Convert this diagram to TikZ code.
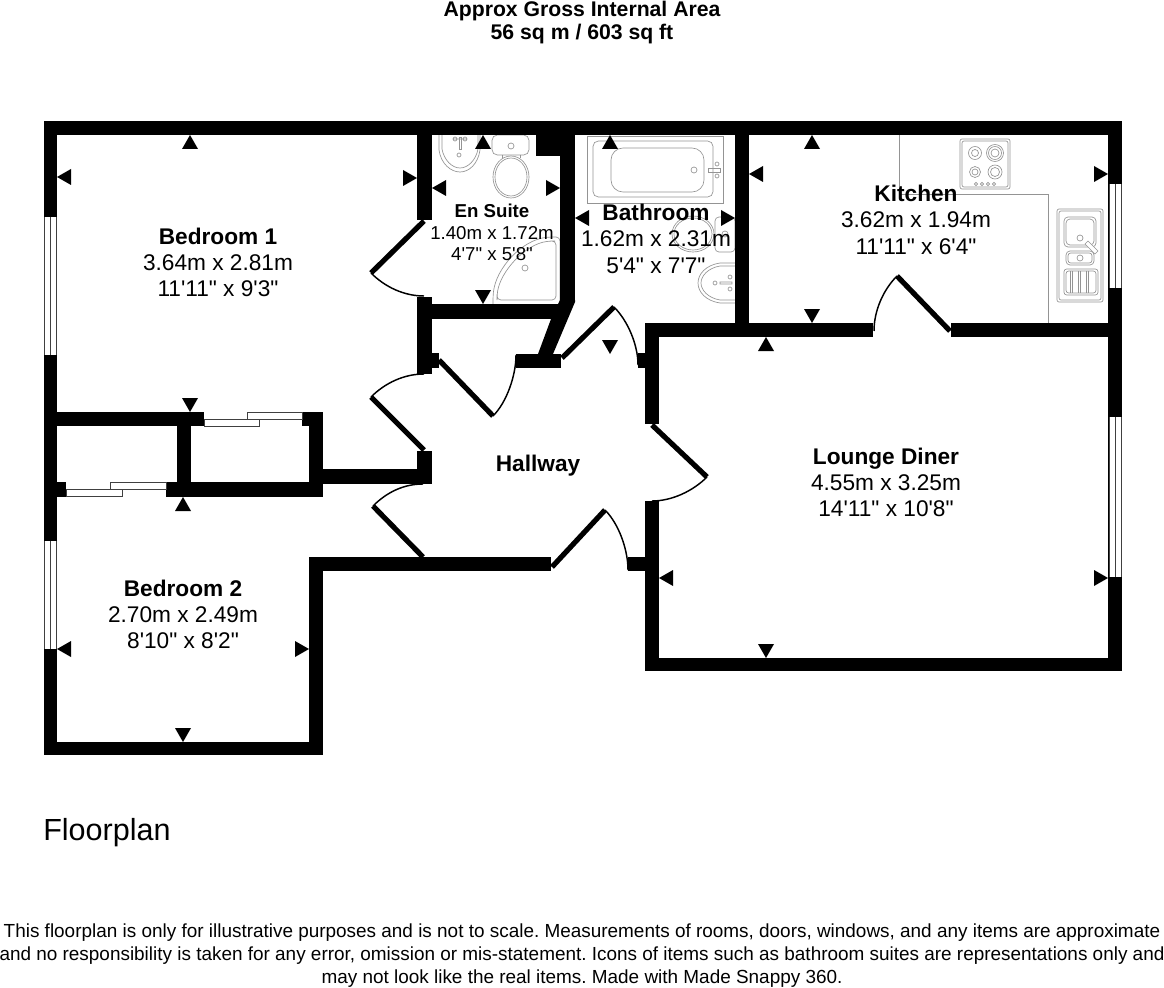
\documentclass[tikz,border=0pt]{standalone}
\usepackage{fontspec}
\setmainfont{Liberation Sans}[Ligatures=TeXOff]
\frenchspacing
\newcommand\wl[4]{\fill[black] (#1,#2) rectangle (#3,#4);}
\newcommand\mku[2]{\fill[black] (#1-8,#2+14) -- (#1+8,#2+14) -- (#1,#2) -- cycle;}
\newcommand\mkd[2]{\fill[black] (#1-8,#2-14) -- (#1+8,#2-14) -- (#1,#2) -- cycle;}
\newcommand\mkl[2]{\fill[black] (#1+14,#2-8) -- (#1+14,#2+8) -- (#1,#2) -- cycle;}
\newcommand\mkr[2]{\fill[black] (#1-14,#2-8) -- (#1-14,#2+8) -- (#1,#2) -- cycle;}
\newcommand\door[6]{\draw[doorleaf] (#1) -- (#2); \draw[doorarc] (#2) .. controls (#4) and (#5) .. (#3);}
\newcommand\winv[3]{\fill[white] (#1,#2) rectangle (#1+13,#3); \draw[winline] (#1+0.5,#2) -- (#1+0.5,#3) (#1+6.5,#2) -- (#1+6.5,#3) (#1+12.5,#2) -- (#1+12.5,#3);}
\newcommand\slide[4]{\draw[winline,fill=white] (#1,#2) rectangle (#3,#4);}
\newcommand\lab[5]{\node[lbl,font=\fontsize{#3}{#3}\selectfont#4] at (#1,#2) {#5};}
\tikzset{
 x=0.75pt,y=-0.75pt,
 doorleaf/.style={line width=3.9pt,black},
 doorarc/.style={line width=1.1pt,black},
 winline/.style={line width=0.6pt,black!75},
 fixt/.style={line width=0.5pt,draw=black!42,fill=none},
 lbl/.style={anchor=base,inner sep=0pt,black}
}
\begin{document}
\begin{tikzpicture}
\useasboundingbox (0,0) rectangle (1164,988);
% kitchen worktop and fittings
\begin{scope}[fixt]
\draw[fixt] (899,135) -- (899,194) -- (1048,194) -- (1048,323);
\draw[fixt,fill=white,rounded corners=1.5] (960,139) rectangle (1010,189);
\draw[fixt,rounded corners=1.5] (962,141) rectangle (1008,187);
\draw[fixt] (975,153) circle (6.5) (975,153) circle (3.5);
\draw[fixt] (995,153) circle (8.5) (995,153) circle (6.5) (995,153) circle (4);
\draw[fixt] (975,172) circle (5.5) (975,172) circle (3);
\draw[fixt] (995,172) circle (7) (995,172) circle (4.5);
\foreach \q in {976,982,988,994}{\draw[fixt] (\q,184) circle (1.6);}
\draw[fixt,rounded corners=1.5] (1057,209) rectangle (1103,302);
\draw[fixt,rounded corners=1.5] (1059,211) rectangle (1101,300);
\draw[fixt,rounded corners=3] (1064,217) rectangle (1096,247);
\draw[fixt,rounded corners=3] (1066,219) rectangle (1094,245);
\draw[fixt,rounded corners=3] (1066,251) rectangle (1094,265);
\draw[fixt,rounded corners=2] (1068,253) rectangle (1092,263);
\draw[fixt] (1080,238) circle (3) (1080,258) circle (3);
\draw[fixt,fill=white] (1088,241) -- (1098,251) -- (1095,254) -- (1085,244) -- cycle;
\draw[fixt,rounded corners=2] (1064,269) rectangle (1098,295);
\draw[fixt,rounded corners=2] (1066,271) rectangle (1096,293);
\foreach \q in {1072,1080,1088}{\draw[fixt] (\q,271) -- (\q,293);}
\foreach \q in {1070,1078,1086}{\draw[fixt] (\q,271) -- (\q,293);}
% en suite basin
\draw[fixt] (439,135) -- (439,150) .. controls (441,164) and (451,172) .. (460,172) .. controls (469,172) and (478,164) .. (480,150) -- (480,135);
\draw[fixt] (442,135) -- (442,149) .. controls (444,160) and (452,168) .. (460,168) .. controls (468,168) and (476,160) .. (478,149) -- (478,135);
\draw[fixt] (459,137) rectangle (461,149);
\draw[fixt] (453,139) -- (467,139) (459,155) circle (2) (455,139) circle (2) (465,139) circle (2);
% en suite wc
\draw[fixt,rounded corners=4] (492,135) rectangle (529,155);
\draw[fixt] (511,146) circle (3);
\draw[fixt] (511,177) ellipse (18 and 21);
\draw[fixt] (511,177) ellipse (16 and 19);
\draw[fixt] (502,155) -- (502,158) (520,155) -- (520,158);
% shower
\draw[fixt,rounded corners=3] (493,304) -- (493,296) .. controls (496,268) and (522,240) .. (550,237) -- (560,237) -- (560,304);
\draw[fixt,rounded corners=3] (497,300) -- (497,296) .. controls (500,272) and (525,244) .. (551,241) -- (556,241) -- (556,300) -- cycle;
\draw[fixt] (525,268) circle (3);
% bath
\draw[fixt] (587,136) rectangle (723,203);
\draw[fixt,rounded corners=4] (593,141) rectangle (713,197);
\draw[fixt,rounded corners=9] (611,148) rectangle (704,192);
\draw[fixt] (694,170) circle (3);
\draw[fixt] (708,168) rectangle (720,172);
\draw[fixt] (717,164) circle (2) (717,176) circle (2);
% bathroom wc
\draw[fixt,rounded corners=3] (715,217) rectangle (735,252);
\draw[fixt] (725,234) circle (3);
\draw[fixt] (693,234) ellipse (21 and 18);
\draw[fixt] (693,234) ellipse (19 and 16);
% bathroom basin
\draw[fixt] (735,263) -- (720,263) .. controls (706,265) and (698,274) .. (698,283) .. controls (698,292) and (706,301) .. (720,303) -- (735,303);
\draw[fixt] (735,266) -- (720,266) .. controls (708,268) and (701,276) .. (701,283) .. controls (701,290) and (708,298) .. (720,300) -- (735,300);
\draw[fixt] (715,283) circle (2) (720,282) rectangle (732,284) (730,277) circle (2) (730,289) circle (2);
\end{scope}
% walls
\wl{44}{121}{1122}{135}
\wl{44}{121}{57}{755}
\wl{1108}{121}{1122}{671}
\wl{44}{742}{323}{755}
\wl{309}{558}{323}{755}
\wl{309}{557}{551}{571}
\wl{57}{412}{204}{426}
\wl{177}{412}{191}{497}
\wl{166}{482}{323}{497}
\wl{57}{482}{66}{497}
\wl{309}{412}{323}{497}
\wl{302}{412}{309}{426}
\wl{323}{469}{432}{484}
\wl{417}{451}{432}{484}
\wl{417}{297}{432}{374}
\wl{432}{353}{439}{368}
\wl{417}{121}{432}{220}
\wl{417}{304}{562}{319}
\wl{560}{121}{575}{302}
\wl{536}{135}{560}{156}
\fill[black] (560,300) -- (551,319) -- (538,354) -- (553,354) -- (575,302) -- (575,300) -- cycle;
\wl{516}{354}{561}{368}
\wl{735}{121}{749}{325}
\wl{645}{323}{873}{337}
\wl{951}{323}{1108}{337}
\wl{645}{323}{659}{424}
\wl{638}{353}{645}{368}
\wl{645}{501}{659}{671}
\wl{628}{557}{645}{571}
\wl{645}{658}{1122}{671}
% windows
\winv{44}{217}{355}
\winv{44}{541}{649}
\winv{1108.5}{184}{288}
\winv{1108.5}{417}{577}
\slide{204}{419}{259}{426}
\slide{247}{412}{302}{419}
\slide{66}{489}{122}{496}
\slide{110}{482}{166}{489}
% doors
\door{424,221}{371,273}{424,296}{385,287}{404,296}{}
\door{424,450}{371,397}{424,374}{385,383}{404,374}{}
\door{423,557}{373,506}{423,484}{387,492}{404,484}{}
\door{439,360}{493,416}{516,355}{507,402}{516,375}{}
\door{562,358}{614,307}{638,365}{628,321}{638,345}{}
\door{652,425}{707,477}{652,501}{693,491}{672,501}{}
\door{552,567}{605,510}{628,570}{619,524}{628,550}{}
\door{950,331}{897,276}{874,331}{883,290}{874,311}{}
% markers
\mku{190}{135}\mkl{57}{177}\mkr{417}{178}\mkd{190}{412}
\mku{183}{497}\mkl{57}{649}\mkr{309}{649}\mkd{183}{742}
\mkl{432}{188}\mkr{560}{188}\mku{483}{135}\mkd{483}{304}
\mku{610}{135}\mkd{610}{354}\mkl{575}{218}\mkr{735}{218}
\mku{812}{135}\mkl{749}{174}\mkr{1108}{174}\mkd{812}{323}
\mku{766}{337}\mkl{659}{578}\mkr{1108}{578}\mkd{766}{658}
% text
\lab{582}{17}{15.9}{\bfseries}{Approx Gross Internal Area}
\lab{582}{40}{15.9}{\bfseries}{56 sq m / 603 sq ft}
\lab{218}{244}{17}{\bfseries}{Bedroom 1}
\lab{218}{270}{17}{}{3.64m x 2.81m}
\lab{218}{296}{17}{}{11'11" x 9'3"}
\lab{183}{596}{17}{\bfseries}{Bedroom 2}
\lab{183}{622}{17}{}{2.70m x 2.49m}
\lab{183}{648}{17}{}{8'10" x 8'2"}
\lab{492}{218}{14}{\bfseries}{En Suite}
\lab{492}{239}{14}{}{1.40m x 1.72m}
\lab{492}{260}{14}{}{4'7" x 5'8"}
\lab{656}{221}{17}{\bfseries}{Bathroom}
\lab{656}{247}{17}{}{1.62m x 2.31m}
\lab{656}{273}{17}{}{5'4" x 7'7"}
\lab{916}{202}{17}{\bfseries}{Kitchen}
\lab{916}{228}{17}{}{3.62m x 1.94m}
\lab{916}{254}{17}{}{11'11" x 6'4"}
\lab{538}{471}{17}{\bfseries}{Hallway}
\lab{886}{464}{17}{\bfseries}{Lounge Diner}
\lab{886}{490}{17}{}{4.55m x 3.25m}
\lab{886}{516}{17}{}{14'11" x 10'8"}
\node[lbl,anchor=base west,font=\fontsize{22.9}{22.9}\selectfont] at (43,840) {Floorplan};
\lab{582}{937}{14.2}{}{This floorplan is only for illustrative purposes and is not to scale. Measurements of rooms, doors, windows, and any items are approximate}
\lab{582}{960}{14.2}{}{and no responsibility is taken for any error, omission or mis-statement. Icons of items such as bathroom suites are representations only and}
\lab{582}{983}{14.2}{}{may not look like the real items. Made with Made Snappy 360.}
\end{tikzpicture}
\end{document}
